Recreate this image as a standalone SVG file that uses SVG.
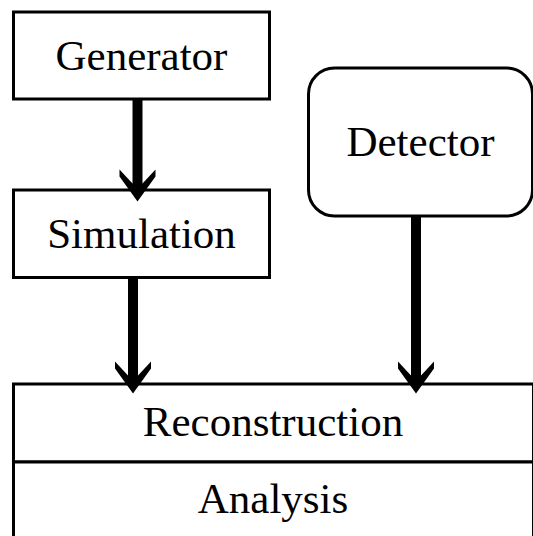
<svg xmlns="http://www.w3.org/2000/svg" width="533" height="536" viewBox="0 0 533 536">
  <style>
    .box { fill: #ffffff; stroke: #000000; stroke-width: 3; }
    .lbl { font-family: "Liberation Serif", "Times New Roman", serif; font-size: 43px; fill: #000000; text-anchor: middle; }
    .shaft { stroke: #000000; stroke-width: 10; fill: none; }
    .head { fill: #000000; stroke: none; }
  </style>
  <defs>
    <path id="arrowhead" class="head" d="M -5 -18 L -18 -32 L -18 -25 L 0 0 L 18 -25 L 18 -32 L 5 -18 Z"/>
  </defs>
  <rect width="533" height="536" fill="#ffffff"/>
  <g id="generator">
    <rect class="box" x="13.5" y="12" width="256" height="87"/>
    <text class="lbl" x="141.5" y="70">Generator</text>
  </g>
  <g id="simulation">
    <rect class="box" x="13.5" y="190" width="256" height="87.5"/>
    <text class="lbl" x="141.5" y="248">Simulation</text>
  </g>
  <g id="detector">
    <rect class="box" x="308.5" y="68" width="224" height="148" rx="26" ry="26"/>
    <text class="lbl" x="420.5" y="156">Detector</text>
  </g>
  <g id="reconstruction">
    <rect class="box" x="13.5" y="384" width="520" height="78"/>
    <text class="lbl" x="273" y="436">Reconstruction</text>
  </g>
  <g id="analysis">
    <rect class="box" x="13.5" y="462" width="520" height="100"/>
    <text class="lbl" x="273" y="513">Analysis</text>
  </g>
  <g id="connectors">
    <line class="shaft" x1="137.5" y1="100" x2="137.5" y2="184"/>
    <use href="#arrowhead" transform="translate(137.5,201.5)"/>
    <line class="shaft" x1="133" y1="278" x2="133" y2="376"/>
    <use href="#arrowhead" transform="translate(133,393.5)"/>
    <line class="shaft" x1="416" y1="217" x2="416" y2="376"/>
    <use href="#arrowhead" transform="translate(416,393.5)"/>
  </g>
</svg>
